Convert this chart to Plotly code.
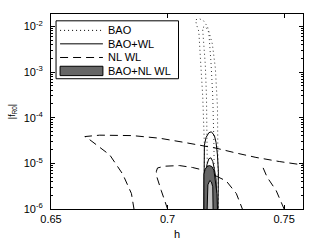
import plotly.graph_objects as go

# ---- data (h, log10|fR0|) ----
bao_outer_h = [0.7158, 0.7158, 0.7151, 0.7144, 0.7134, 0.7124, 0.7120, 0.7137, 0.7154, 0.7171, 0.7192, 0.7205, 0.7214, 0.7218, 0.7218]
bao_outer_lf = [-6.3, -4.605, -3.548, -2.850, -2.110, -1.962, -1.856, -1.835, -1.877, -2.004, -2.385, -2.913, -3.759, -6.0, -6.3]
bao_inner_h = [0.7173, 0.7171, 0.7167, 0.7162, 0.7154, 0.7150, 0.7163, 0.7177, 0.7187, 0.7194, 0.7199, 0.7201, 0.7201]
bao_inner_lf = [-6.3, -4.605, -3.548, -2.850, -2.173, -2.025, -2.004, -2.131, -2.850, -3.548, -4.605, -6.0, -6.3]

wl_outer_h = [0.7155, 0.7155, 0.7158, 0.7165, 0.7177, 0.7188, 0.7201, 0.7208, 0.7214, 0.7218, 0.7216, 0.7216]
wl_outer_lf = [-6.3, -5.175, -4.605, -4.436, -4.330, -4.309, -4.393, -4.541, -4.816, -5.175, -6.0, -6.3]
wl_inner_h = [0.7158, 0.7162, 0.7169, 0.7177, 0.7186, 0.7194, 0.7201, 0.7208, 0.7212, 0.7212]
wl_inner_lf = [-6.3, -5.345, -5.027, -4.900, -4.879, -4.958, -5.133, -5.345, -6.0, -6.3]

nl_outer_h = [0.6857, 0.6856, 0.6845, 0.6808, 0.6752, 0.6688, 0.6654, 0.6645, 0.6709, 0.6850, 0.6966, 0.7064, 0.7208, 0.7294, 0.7379, 0.7479, 0.7600]
nl_outer_lf = [-6.3, -6.0, -5.662, -5.239, -4.816, -4.562, -4.436, -4.414, -4.383, -4.393, -4.450, -4.535, -4.668, -4.774, -4.870, -4.960, -5.050]
nl_right_h = [0.7410, 0.7427, 0.7466, 0.7500, 0.7505]
nl_right_lf = [-5.10, -5.302, -5.598, -6.0, -6.3]
nl_inner_h = [0.7001, 0.7000, 0.6973, 0.6953, 0.6952, 0.6957, 0.6987, 0.7051, 0.7107, 0.7158, 0.7201, 0.7252, 0.7295, 0.7321, 0.7323]
nl_inner_lf = [-6.3, -6.0, -5.598, -5.281, -5.175, -5.101, -5.063, -5.049, -5.091, -5.154, -5.260, -5.387, -5.662, -6.0, -6.3]

nlb_outer_h = [0.7156, 0.7156, 0.7161, 0.7169, 0.7179, 0.7190, 0.7199, 0.7205, 0.7212, 0.7214, 0.7214]
nlb_outer_lf = [-6.3, -5.239, -5.133, -5.070, -5.049, -5.070, -5.154, -5.345, -5.662, -6.0, -6.3]
nlb_inner_h = [0.7168, 0.7170, 0.7173, 0.7181, 0.7188, 0.7194, 0.7196, 0.7196]
nlb_inner_lf = [-6.3, -5.662, -5.471, -5.376, -5.408, -5.514, -6.0, -6.3]

legend_labels = ["BAO", "BAO+WL", "NL WL", "BAO+NL WL"]
x_ticks = [0.65, 0.7, 0.75]
x_ticklabels = ["0.65", "0.7", "0.75"]
y_exponents = [-6, -5, -4, -3, -2]

DOT = "1px,3px"
DASH = "8px,5px"
DARK = "#666666"
LIGHT = "#c4c4c4"


def f(lf):
    return [10 ** v for v in lf]


fig = go.Figure()
ln = dict(color="black", width=1)

fig.add_trace(go.Scatter(x=bao_outer_h, y=f(bao_outer_lf), mode="lines", name=legend_labels[0],
                         line=dict(color="#333333", width=1, dash=DOT)))
fig.add_trace(go.Scatter(x=bao_inner_h, y=f(bao_inner_lf), mode="lines", name=legend_labels[0],
                         line=dict(color="#333333", width=1, dash=DOT)))

fig.add_trace(go.Scatter(x=wl_outer_h, y=f(wl_outer_lf), mode="lines", name=legend_labels[1], line=ln))
fig.add_trace(go.Scatter(x=wl_inner_h, y=f(wl_inner_lf), mode="lines", name=legend_labels[1], line=ln))

dash = dict(color="black", width=1, dash=DASH)
fig.add_trace(go.Scatter(x=nl_outer_h, y=f(nl_outer_lf), mode="lines", name=legend_labels[2], line=dash))
fig.add_trace(go.Scatter(x=nl_right_h, y=f(nl_right_lf), mode="lines", name=legend_labels[2], line=dash))
fig.add_trace(go.Scatter(x=nl_inner_h, y=f(nl_inner_lf), mode="lines", name=legend_labels[2], line=dash))

fig.add_trace(go.Scatter(x=nlb_outer_h, y=f(nlb_outer_lf), mode="lines", name=legend_labels[3],
                         fill="toself", fillcolor=DARK, line=ln))
fig.add_trace(go.Scatter(x=nlb_inner_h, y=f(nlb_inner_lf), mode="lines", name=legend_labels[3],
                         fill="toself", fillcolor=LIGHT, line=ln))

FAM = "Liberation Sans, Arial, sans-serif"
font = dict(family=FAM, size=11, color="black")
axis_common = dict(showline=True, linecolor="black", linewidth=1, mirror="ticks",
                   ticks="inside", ticklen=4, tickcolor="black", showgrid=False, zeroline=False,
                   tickfont=font)

# ---- compact boxed legend (MATLAB style), in plot-area fractions ----
lg_x0, lg_x1, lg_top, lg_bot = 0.020, 0.506, 0.965, 0.668
row_y = [0.916, 0.847, 0.777, 0.708]
smp_x0, smp_x1, txt_x = 0.036, 0.206, 0.218
styles = [DOT, "solid", DASH, None]
shapes = [dict(type="rect", xref="paper", yref="paper", x0=lg_x0, x1=lg_x1, y0=lg_bot, y1=lg_top,
               line=dict(color="black", width=1), fillcolor="white", layer="above")]
annotations = []
for i, lab in enumerate(legend_labels):
    if styles[i] is None:
        shapes.append(dict(type="rect", xref="paper", yref="paper", x0=smp_x0, x1=smp_x1,
                           y0=row_y[i] - 0.024, y1=row_y[i] + 0.024,
                           line=dict(color="black", width=1), fillcolor=DARK, layer="above"))
    else:
        shapes.append(dict(type="line", xref="paper", yref="paper", x0=smp_x0, x1=smp_x1,
                           y0=row_y[i], y1=row_y[i],
                           line=dict(color="black", width=1, dash=styles[i]), layer="above"))
    annotations.append(dict(text=lab, xref="paper", yref="paper", x=txt_x, y=row_y[i],
                            xanchor="left", yanchor="middle", showarrow=False, font=font))

fig.update_layout(
    width=314, height=249,
    margin=dict(l=51, r=10, t=14, b=33),
    paper_bgcolor="white", plot_bgcolor="white",
    font=font,
    showlegend=False,
    hovermode=False,
    shapes=shapes,
    annotations=annotations,
    xaxis=dict(range=[0.65, 0.7581], tickvals=x_ticks, ticktext=x_ticklabels,
               title=dict(text="h", font=font, standoff=6), **axis_common),
    yaxis=dict(type="log", range=[-6, -1.73],
               tickvals=[10 ** e for e in y_exponents],
               ticktext=["10<sup>%d</sup>" % e for e in y_exponents],
               ticklabelstandoff=5,
               minor=dict(ticks="inside", ticklen=2, tickcolor="black",
                          tickvals=[m * 10 ** e for e in range(-6, -1) for m in range(2, 10)]),
               title=dict(text="|f<sub>R0</sub>|", font=dict(family=FAM, size=9), standoff=6),
               **axis_common),
)

fig.write_html("out.html", config={"displayModeBar": False, "staticPlot": True},
               post_script="document.body.style.margin='0px';")
